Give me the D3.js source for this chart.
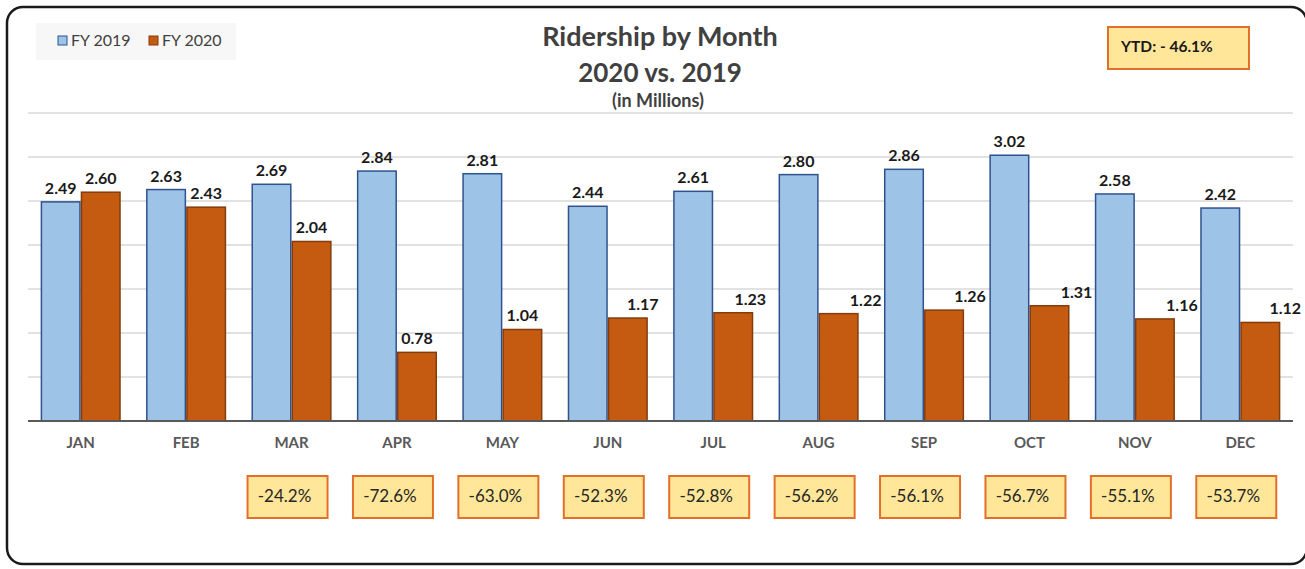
<!DOCTYPE html>
<html>

<head>
    <meta charset="utf-8" />
    <title>Ridership by Month</title>
    <script type="text/javascript" src="https://cdn.jsdelivr.net/npm/d3@7"></script>
    <style>
        body { margin: 0; background: #fff; }
        text { font-family: Lato, "Open Sans", sans-serif; }
    </style>
</head>

<body>
    <script type="text/javascript">
        const months = ["JAN", "FEB", "MAR", "APR", "MAY", "JUN", "JUL", "AUG", "SEP", "OCT", "NOV", "DEC"];
        const seriesNames = ["FY 2019", "FY 2020"];
        const fy2019 = [2.49, 2.63, 2.69, 2.84, 2.81, 2.44, 2.61, 2.80, 2.86, 3.02, 2.58, 2.42];
        const fy2020 = [2.60, 2.43, 2.04, 0.78, 1.04, 1.17, 1.23, 1.22, 1.26, 1.31, 1.16, 1.12];
        const pctChange = [null, null, -24.2, -72.6, -63.0, -52.3, -52.8, -56.2, -56.1, -56.7, -55.1, -53.7];
        const ytdLabel = "YTD: - 46.1%";
        const yTicks = [0, 0.5, 1, 1.5, 2, 2.5, 3, 3.5];

        const width = 1305,
            height = 569,
            colors = { "FY 2019": "#9dc3e6", "FY 2020": "#c55a11" },
            strokes = { "FY 2019": "#2f528f", "FY 2020": "#843c0c" };

        const svg = d3.select("body").append("svg")
            .attr("width", width)
            .attr("height", height);

        // outer frame
        svg.append("rect")
            .attr("x", 7).attr("y", 7)
            .attr("width", 1300).attr("height", 557)
            .attr("rx", 16)
            .attr("fill", "none")
            .attr("stroke", "#1a1a1a")
            .attr("stroke-width", 2.5);

        const x0 = d3.scaleBand()
            .domain(months)
            .range([28, 1293])
            .paddingInner(0.24)
            .paddingOuter(0.12);

        const x1 = d3.scaleBand()
            .domain(seriesNames)
            .range([0, x0.bandwidth()]);

        const y = d3.scaleLinear()
            .domain([0, 3.5])
            .range([421, 113]);

        // gridlines
        svg.append("g")
            .selectAll("line")
            .data(yTicks.slice(1))
            .join("line")
            .attr("x1", 28).attr("x2", 1293)
            .attr("y1", d => y(d)).attr("y2", d => y(d))
            .attr("stroke", "#d9d9d9")
            .attr("stroke-width", 1.5);

        const data = months.map((m, i) => ({
            month: m,
            values: [
                { key: "FY 2019", value: fy2019[i] },
                { key: "FY 2020", value: fy2020[i] }
            ]
        }));

        const groups = svg.append("g")
            .selectAll("g")
            .data(data)
            .join("g")
            .attr("transform", d => `translate(${x0(d.month)},0)`);

        groups.selectAll("rect")
            .data(d => d.values)
            .join("rect")
            .attr("x", d => x1(d.key) + 0.75)
            .attr("y", d => y(d.value))
            .attr("width", x1.bandwidth() - 1.5)
            .attr("height", d => y(0) - y(d.value))
            .attr("fill", d => colors[d.key])
            .attr("stroke", d => strokes[d.key])
            .attr("stroke-width", 1.5);

        // a few 2020 labels were nudged sideways in the original
        const nudge2020 = [0, 0, 0, 0, 0, 15, 17, 27, 26, 27, 27, 25];

        groups.selectAll("text.value")
            .data((d, i) => d.values.map(v => ({ ...v, i })))
            .join("text")
            .attr("class", "value")
            .attr("x", d => x1(d.key) + x1.bandwidth() / 2 + (d.key === "FY 2020" ? nudge2020[d.i] : 0))
            .attr("y", d => y(d.value) - 8)
            .attr("text-anchor", "middle")
            .attr("font-size", 16)
            .attr("font-weight", "bold")
            .attr("fill", "#1a1a1a")
            .text(d => d.value.toFixed(2));

        // x axis
        const xAxis = d3.axisBottom(x0).tickSize(0).tickPadding(16);
        const axisG = svg.append("g")
            .attr("transform", `translate(0,${y(0)})`)
            .call(xAxis);
        axisG.select(".domain")
            .attr("d", "M28,0H1293")
            .attr("stroke", "#595959")
            .attr("stroke-width", 2);
        axisG.selectAll(".tick text")
            .attr("font-family", "Lato, sans-serif")
            .attr("font-size", 15)
            .attr("font-weight", "bold")
            .attr("fill", "#595959");

        // percent change boxes
        const pct = svg.append("g")
            .selectAll("g")
            .data(months.map((m, i) => ({ month: m, v: pctChange[i] })).filter(d => d.v !== null))
            .join("g")
            .attr("transform", d => `translate(${x0(d.month) + x0.bandwidth() / 2 - 4},476)`);
        pct.append("rect")
            .attr("x", -40).attr("y", 0)
            .attr("width", 80).attr("height", 42)
            .attr("fill", "#ffe699")
            .attr("stroke", "#e3702a")
            .attr("stroke-width", 2);
        pct.append("text")
            .attr("x", -3).attr("y", 26)
            .attr("text-anchor", "middle")
            .attr("font-size", 17)
            .attr("fill", "#262626")
            .text(d => d.v.toFixed(1) + "%");

        // YTD box
        svg.append("rect")
            .attr("x", 1108).attr("y", 27)
            .attr("width", 141).attr("height", 42)
            .attr("fill", "#ffe699")
            .attr("stroke", "#e3702a")
            .attr("stroke-width", 2);
        svg.append("text")
            .attr("x", 1121).attr("y", 52)
            .attr("font-size", 15.5)
            .attr("font-weight", "bold")
            .attr("fill", "#1a1a1a")
            .text(ytdLabel);

        // title
        const title = svg.append("g").attr("text-anchor", "middle");
        title.append("text")
            .attr("x", 660).attr("y", 46)
            .attr("font-size", 27).attr("font-weight", "bold")
            .attr("fill", "#404040")
            .text("Ridership by Month");
        title.append("text")
            .attr("x", 660).attr("y", 82)
            .attr("font-size", 26).attr("font-weight", "bold")
            .attr("fill", "#404040")
            .text("2020 vs. 2019");
        title.append("text")
            .attr("x", 658).attr("y", 107)
            .attr("font-size", 18).attr("font-weight", "bold")
            .attr("fill", "#404040")
            .text("(in Millions)");

        // legend
        svg.append("rect")
            .attr("x", 36).attr("y", 23)
            .attr("width", 200).attr("height", 37)
            .attr("fill", "#f7f7f7");
        const legend = svg.append("g")
            .selectAll("g")
            .data(seriesNames)
            .join("g")
            .attr("transform", (d, i) => `translate(${58 + i * 91},36)`);
        legend.append("rect")
            .attr("width", 9).attr("height", 9)
            .attr("fill", d => colors[d])
            .attr("stroke", d => strokes[d])
            .attr("stroke-width", 1);
        legend.append("text")
            .attr("x", 13).attr("y", 10)
            .attr("font-size", 16)
            .attr("fill", "#404040")
            .text(d => d);
    </script>
</body>

</html>
